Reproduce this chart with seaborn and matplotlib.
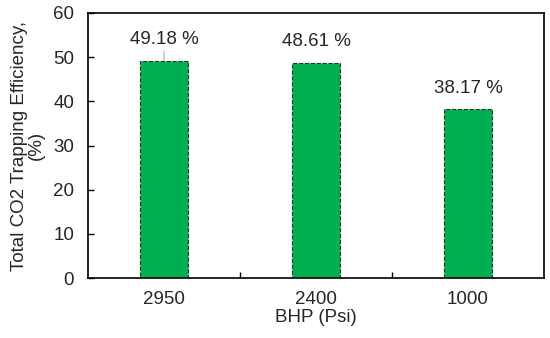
import pandas as pd
import seaborn as sns
import matplotlib.pyplot as plt
from matplotlib.ticker import FixedLocator

## Data
bhp = ['2950', '2400', '1000']
efficiency = [49.18, 48.61, 38.17]
df = pd.DataFrame({'BHP': bhp, 'eff': efficiency})

## Plotting
sns.set_style('white')
plt.rcParams['font.family'] = ['Liberation Sans', 'DejaVu Sans']
fs = 13.5
fig = plt.figure(figsize=(5.5, 3.38), dpi=100)
ax = fig.add_axes([0.16, 0.177, 0.829, 0.785])
sns.barplot(x='BHP', y='eff', data=df, ax=ax, color='#00B050', saturation=1,
            width=0.32, edgecolor='#1a3a1a', linewidth=0.8, linestyle='--')

for i, v in enumerate(efficiency):
    ax.annotate(f'{v:.2f} %', xy=(i, v), xytext=(i, v + 4.8), ha='center', va='center',
                fontsize=fs, arrowprops=dict(arrowstyle='-', color='#b0b0b0', lw=0.8,
                                             shrinkA=7, shrinkB=0) if i == 0 else None)

ax.set_ylim(0, 60)
ax.set_xlim(-0.5, 2.5)
ax.set_yticks(range(0, 61, 10))
ax.xaxis.set_minor_locator(FixedLocator([0.5, 1.5]))
ax.tick_params(axis='x', which='major', length=0, labelsize=fs, pad=9)
ax.tick_params(axis='x', which='minor', direction='in', length=4, width=1, color='black', bottom=True)
ax.tick_params(axis='y', direction='in', length=4, width=1, color='black', labelsize=fs, left=True, pad=10)
for s in ax.spines.values():
    s.set_color('black')
    s.set_linewidth(1.2)
ax.set_xlabel('BHP (Psi)', fontsize=fs, labelpad=1)
ax.set_ylabel('Total CO2 Trapping Efficiency,\n(%)', fontsize=fs, linespacing=0.95, labelpad=6)
plt.savefig('out.png', dpi=100)
plt.close()
